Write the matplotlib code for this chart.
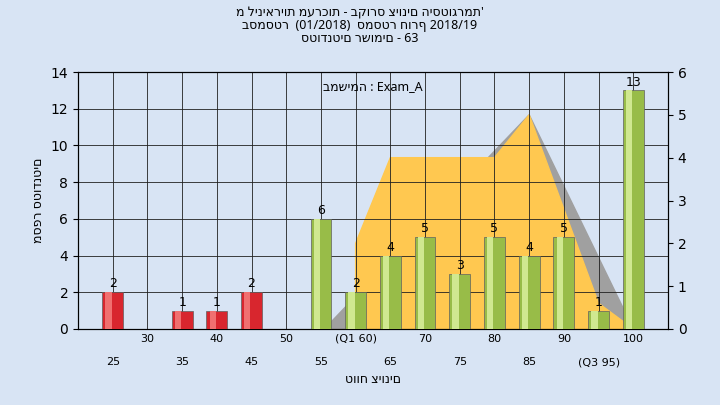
import matplotlib
matplotlib.use("Agg")
import matplotlib.pyplot as plt
import numpy as np

cats = [25,30,35,40,45,50,55,60,65,70,75,80,85,90,95,100]
tick_labels = ["25","30","35","40","45","50","55","(Q1 60)","65","70","75","80","85","90","(Q3 95)","100"]
counts = [2,0,1,1,2,0,6,2,4,5,3,5,4,5,1,13]
fail_limit = 55
dist_x = [60,60,65,80,85,95,100]
dist_y = [0,2,4,4,5,0.6,0]
shadow_x = [55.5,85,100]
shadow_y = [0,5,0]

title = "\n".join([
    "מ ליניאריות מערכות - בקורס ציונים היסטוגרמת'",
    "בסמסטר  (01/2018)  סמסטר חורף 2018/19",
    "סטודנטים רשומים - 63",
])
HEB = ["Noto Sans", "DejaVu Sans"]

fig = plt.figure(figsize=(7.2,4.05), dpi=100)
fig.patch.set_facecolor("#d8e4f4")
ax = fig.add_axes([78/720, 1-329/405, 590/720, 257/405])
idx = np.arange(len(cats))
def pos(v): return (v-25)/5

ax2 = ax.twinx()
ax2.set_ylim(0,6)
ax2.fill([pos(v) for v in shadow_x], shadow_y, color="#a0a0a0", zorder=1)
ax2.fill([pos(v) for v in dist_x], dist_y, color="#ffc850", zorder=2)
ax2.set_zorder(1); ax.set_zorder(2); ax.patch.set_visible(False)
ax2.set_facecolor("#b4b4b4")

for i,c in enumerate(counts):
    if c==0: continue
    red = cats[i] < fail_limit
    base = "#d8262e" if red else "#98bc48"
    hi = "#f07070" if red else "#d0e890"
    ax.bar(i, c, width=0.6, color=base, edgecolor="#606060", linewidth=0.5, zorder=3)
    ax.bar(i-0.12, c, width=0.18, color=hi, linewidth=0, zorder=4)
    ax.text(i, c+0.1, str(c), ha="center", va="bottom", fontsize=9, zorder=5)

ax.set_xlim(-1,16)
ax.set_ylim(0,14)
ax.set_yticks(range(0,15,2))
ax.set_xticks(idx)
ax.set_xticklabels([("\n\n"+l) if k%2==0 else l for k,l in enumerate(tick_labels)], fontsize=8)
ax.tick_params(axis="x", length=0)
ax.grid(True, color="#202020", linewidth=0.6)
ax.set_axisbelow(True)
ax2.grid(False)
ax2.set_yticks(range(0,7))
ax.set_ylabel("מספר סטודנטים", fontsize=9, family=HEB)
ax.set_xlabel("טווח ציונים", fontsize=9, family=HEB)
ax.text(7.5, 13.2, "במשימה : Exam_A", ha="center", va="center", fontsize=9, family=HEB)
fig.text(0.5, 0.985, title, ha="center", va="top", fontsize=9, linespacing=1.0, family=HEB)
fig.savefig("out.png", dpi=100, facecolor=fig.get_facecolor())
